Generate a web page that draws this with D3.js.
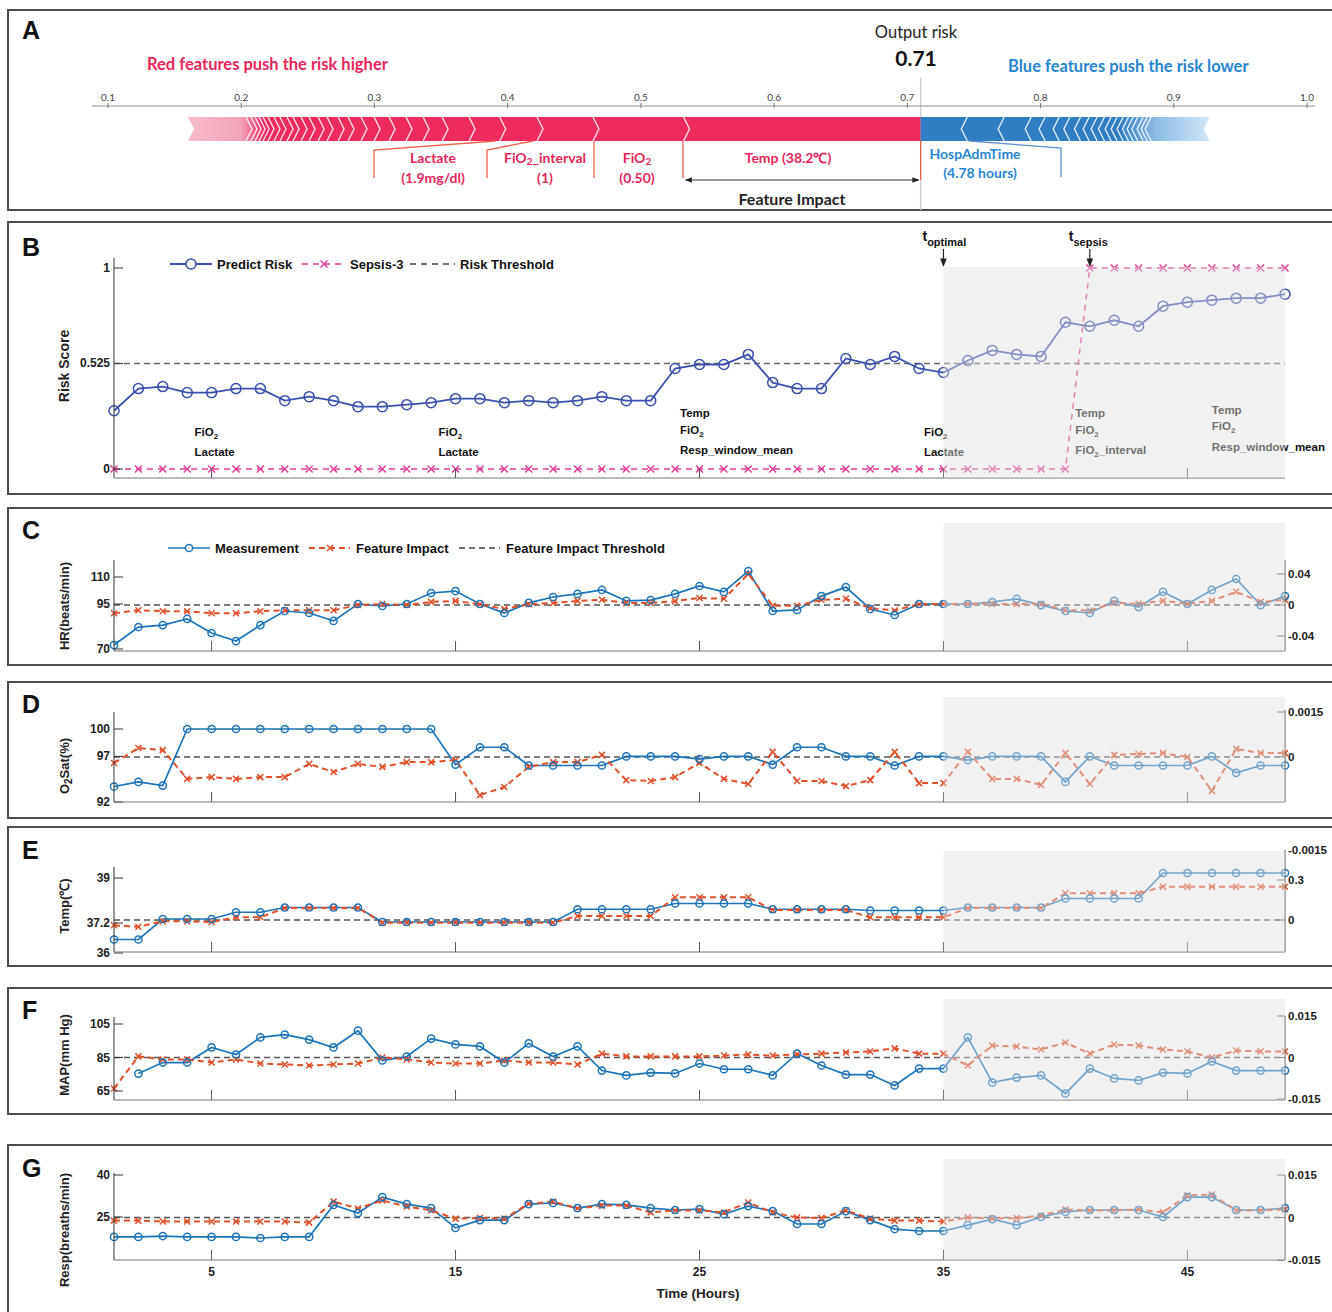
<!DOCTYPE html>
<html><head><meta charset="utf-8">
<script src="https://cdn.jsdelivr.net/npm/d3@7"></script>
<style>body{margin:0;background:#fff}svg{display:block}</style>
</head><body><svg id="c" width="1332" height="1312"></svg>
<script>
// ---------------- DATA ----------------
const forceTicks = [0.1,0.2,0.3,0.4,0.5,0.6,0.7,0.8,0.9,1.0];
const outputRisk = 0.71;
const redStart = 0.16;
const redSmallBounds = [0.2036,0.2074,0.2104,0.2134,0.2164,0.2201,0.2246,0.2291,0.2344,0.2389,0.2449,0.2509,0.2577,0.2644,0.2727,0.2802,0.2899,0.2997,0.3110,0.3237,0.3365,0.3508,0.371];
const redFeatureNames = ["Lactate","FiO{2}_interval","FiO{2}","Temp (38.2℃)"];
const redFeatureValues = ["(1.9mg/dl)","(1)","(0.50)",""];
const redFeatureStarts = [0.394,0.422,0.464,0.532];
const blueFeatureNames = ["HospAdmTime"];
const blueFeatureValues = ["(4.78 hours)"];
const blueFeatureEnds = [0.745];
const blueSmallBounds = [0.7727,0.793,0.8034,0.814,0.822,0.830,0.8365,0.8425,0.848,0.853,0.8575,0.862,0.866,0.8695,0.873,0.877,0.880,0.883];
const blueEnd = 0.927;

const hours = [1,2,3,4,5,6,7,8,9,10,11,12,13,14,15,16,17,18,19,20,21,22,23,24,25,26,27,28,29,30,31,32,33,34,35,36,37,38,39,40,41,42,43,44,45,46,47,48,49];
const hourTicks = [5,15,25,35,45];
const tOptimal = 35, tSepsis = 41;
const riskThreshold = 0.525;
const predictRisk = [0.29,0.40,0.41,0.38,0.38,0.40,0.40,0.34,0.36,0.34,0.31,0.31,0.32,0.33,0.35,0.35,0.33,0.34,0.33,0.34,0.36,0.34,0.34,0.50,0.52,0.52,0.57,0.43,0.40,0.40,0.55,0.52,0.56,0.50,0.48,0.54,0.59,0.57,0.56,0.73,0.71,0.74,0.71,0.81,0.83,0.84,0.85,0.85,0.87];
const sepsis3 = [0,0,0,0,0,0,0,0,0,0,0,0,0,0,0,0,0,0,0,0,0,0,0,0,0,0,0,0,0,0,0,0,0,0,0,0,0,0,0,0,1,1,1,1,1,1,1,1,1];
const riskTicks = [0,0.525,1];
const topFeatureLists = [["FiO{2}","Lactate"],["FiO{2}","Lactate"],["Temp","FiO{2}","Resp_window_mean"],["FiO{2}","Lactate"],["Temp","FiO{2}","FiO{2}_interval"],["Temp","FiO{2}","Resp_window_mean"]];
const topFeatureHours = [4.3,14.3,24.2,34.2,40.4,46.0];

const hr = [72.2,82.2,83.3,86.7,78.9,74.4,83.3,91.1,90,85.6,95,93.9,95,101.1,102.2,95,90,95.6,98.9,100.6,102.8,96.7,97.2,100.6,105,101.7,113.3,91.1,91.7,99.4,104.4,92.2,88.9,95,95,95,96.1,97.8,94.4,91.1,90,96.7,93.3,101.7,95,102.8,108.9,94.4,99.4];
const hrImpact = [-0.0107,-0.0067,-0.008,-0.008,-0.0107,-0.0107,-0.008,-0.0067,-0.0067,-0.0067,0,0.0013,0,0.004,0.0053,0.001,-0.0053,0.001,0.0027,0.0053,0.0067,0.0027,0.0027,0.005,0.009,0.008,0.04,-0.001,-0.001,0.0067,0.008,-0.004,-0.007,0.001,0.0013,0.0017,0.0013,0.0013,0.0017,-0.0067,-0.007,0.0027,0.0017,0.0053,0.0017,0.0053,0.017,0.004,0.0067];
const o2 = [93.7,94.2,93.8,100,100,100,100,100,100,100,100,100,100,100,96.1,98,98,96,96,96,96,97,97,97,96.7,97,97,96.1,98,98,97,97,96,97,97,96.6,97,97,97,94.2,97,96,96,96,96,97,95.2,96,96];
const o2Impact = [-0.0002,0.0003,0.00023,-0.00073,-0.00067,-0.00073,-0.00067,-0.00067,-0.00023,-0.0005,-0.00023,-0.00033,-0.00017,-0.00017,-0.0001,-0.00127,-0.001,-0.00033,-0.00017,-0.00017,0.00007,-0.00077,-0.0008,-0.00067,-0.0002,-0.00073,-0.0009,0.00017,-0.0008,-0.0008,-0.00097,-0.00077,0.00017,-0.00087,-0.00087,0.00017,-0.00073,-0.00073,-0.00093,0.00013,-0.0009,0.00007,0.0001,0.00013,0,-0.00113,0.00027,0.00013,0.00013];
const temp = [36.54,36.54,37.36,37.36,37.36,37.63,37.63,37.82,37.82,37.82,37.82,37.24,37.24,37.24,37.24,37.24,37.24,37.24,37.24,37.75,37.75,37.75,37.75,37.98,37.98,37.98,37.98,37.75,37.75,37.75,37.75,37.7,37.7,37.7,37.7,37.82,37.82,37.82,37.82,38.18,38.18,38.18,38.18,39.2,39.2,39.2,39.2,39.2,39.2];
const tempImpact = [-0.04,-0.05,-0.01,-0.01,-0.015,0.02,0.02,0.09,0.09,0.09,0.09,-0.02,-0.02,-0.02,-0.02,-0.02,-0.02,-0.02,-0.02,0.03,0.03,0.03,0.03,0.17,0.17,0.17,0.17,0.075,0.075,0.075,0.075,0.02,0.02,0.02,0.02,0.09,0.09,0.09,0.09,0.2,0.2,0.2,0.2,0.25,0.25,0.25,0.25,0.25,0.25];
const map = [null,75.4,82,82,91,86.8,97,98.7,95.7,91,101,83.2,85.6,96.3,92.8,91.6,82,93.4,85.6,91.6,77.2,74.3,76,75.5,81.4,78,78,74.3,87.4,80.2,74.8,74.8,68.3,78.4,78.4,97,70,73,74.3,63.5,78.4,72.5,71.3,76,75.5,82.6,77.2,77.2,77.2];
const mapImpact = [-0.0112,0.0004,-0.0007,-0.0007,-0.0018,-0.0007,-0.0022,-0.0025,-0.0029,-0.0025,-0.0022,0,-0.0007,-0.0018,-0.0022,-0.0022,-0.0011,-0.0018,-0.0018,-0.0025,0.0014,0.0004,0.0004,0.0004,0.0004,0.0007,0.0011,0.0007,0.0011,0.0014,0.0018,0.0022,0.0033,0.0014,0.0014,-0.0029,0.0043,0.004,0.0029,0.0054,0.0014,0.0047,0.0043,0.0029,0.0022,0,0.0025,0.0022,0.0022];
const resp = [17.9,17.9,18.2,17.9,17.9,17.9,17.5,17.9,17.9,29.3,26.4,32.1,29.6,28.2,21.1,23.9,23.9,29.6,30,28.2,29.6,29.3,28.2,27.5,27.8,26,28.9,27.1,22.5,22.5,27.1,23.9,20.7,20,20,22.1,24.2,22.1,25,26.8,27.5,27.5,27.5,25,32.1,32.1,27.5,27.5,28.2];
const respImpact = [-0.0011,-0.0011,-0.0014,-0.0014,-0.0014,-0.0014,-0.0014,-0.0014,-0.0018,0.0056,0.0032,0.006,0.0039,0.0025,-0.0004,-0.0002,-0.0004,0.0049,0.0056,0.0032,0.0042,0.0042,0.0018,0.0025,0.0025,0.0018,0.0053,0.0018,0,-0.0002,0.0025,-0.0004,-0.0011,-0.0011,-0.0014,0,-0.0004,-0.0002,0.0007,0.0028,0.0025,0.0025,0.0028,0.0018,0.0078,0.0081,0.0025,0.0025,0.0028];

const hrTicks=[70,95,110], hrImpTicks=[-0.04,0,0.04];
const o2Ticks=[92,97,100], o2ImpTicks=[0,0.0015];
const tempTicks=[36,37.2,39], tempImpTicks=[0,0.3];
const mapTicks=[65,85,105], mapImpTicks=[-0.015,0,0.015];
const respTicks=[25,40], respImpTicks=[-0.015,0,0.015];

// ---------------- DRAW ----------------
const ARIAL='"Liberation Sans", Arial, sans-serif';
const CAL='Lato, "Open Sans", sans-serif';
const svg=d3.select('#c');
svg.append('rect').attr('width',1332).attr('height',1312).attr('fill','#fff');
const defs=svg.append('defs');
defs.append('marker').attr('id','arr').attr('viewBox','0 0 10 10').attr('refX',9).attr('refY',5)
  .attr('markerWidth',7).attr('markerHeight',7).attr('orient','auto-start-reverse')
  .append('path').attr('d','M0,1L10,5L0,9z').attr('fill','#222');

function rich(sel,str,sub){
  const parts=str.split(/(\{[^}]*\})/).filter(s=>s.length);
  let shifted=false;
  parts.forEach(p=>{
    if(p[0]==='{'){sel.append('tspan').attr('dy',sub[1]).attr('font-size',sub[0]).text(p.slice(1,-1));shifted=true;}
    else{const ts=sel.append('tspan').text(p);if(shifted){ts.attr('dy',-sub[1]);shifted=false;}}
  });
  return sel;
}
function xPath(cx,cy,s){return `M${cx-s},${cy-s}L${cx+s},${cy+s}M${cx-s},${cy+s}L${cx+s},${cy-s}`;}

// frames
[[10,210],[222,494],[508,665],[682,818],[827,966],[988,1114],[1145,1330]].forEach(([t,b])=>{
  svg.append('rect').attr('x',8).attr('y',t).attr('width',1345).attr('height',b-t)
   .attr('fill','none').attr('stroke','#4d4d4d').attr('stroke-width',2);
});
[['A',30],['B',247],['C',530],['D',704],['E',850],['F',1010],['G',1168]].forEach(([l,y])=>{
  svg.append('text').attr('x',22).attr('y',y).attr('dominant-baseline','central').attr('font-family',ARIAL)
   .attr('font-weight','bold').attr('font-size',25).attr('fill','#111').text(l);
});

// ---------- Panel A ----------
const xA=d3.scaleLinear().domain([0.1,1.0]).range([108,1307]);
const gA=svg.append('g').attr('font-family',CAL);
gA.append('line').attr('x1',xA(outputRisk)).attr('x2',xA(outputRisk)).attr('y1',78).attr('y2',210).attr('stroke','#cfcfcf').attr('stroke-width',1.5);
gA.append('line').attr('x1',92).attr('x2',1315).attr('y1',106).attr('y2',106).attr('stroke','#8c8c8c').attr('stroke-width',1.2);
forceTicks.forEach(v=>{
  gA.append('line').attr('x1',xA(v)).attr('x2',xA(v)).attr('y1',103).attr('y2',108).attr('stroke','#777');
  gA.append('text').attr('x',xA(v)).attr('y',97).attr('text-anchor','middle').attr('dominant-baseline','central')
   .attr('font-size',10).attr('fill','#444').text(v.toFixed(1));
});
gA.append('text').attr('x',916).attr('y',32).attr('text-anchor','middle').attr('dominant-baseline','central').attr('font-size',16.5).attr('fill','#222').text('Output risk');
gA.append('text').attr('x',916).attr('y',57).attr('text-anchor','middle').attr('dominant-baseline','central').attr('font-size',21).attr('font-weight','bold').attr('fill','#111').text(outputRisk.toFixed(2));
gA.append('text').attr('x',147).attr('y',64).attr('dominant-baseline','central').attr('font-size',16.5).attr('font-weight','bold').attr('fill','#e8265c').text('Red features push the risk higher');
gA.append('text').attr('x',1008).attr('y',66).attr('dominant-baseline','central').attr('font-size',16.5).attr('font-weight','bold').attr('fill','#2786d2').text('Blue features push the risk lower');

const bt=117,bb=141,bm=129,ch=6;
const rg=defs.append('linearGradient').attr('id','rfade').attr('gradientUnits','userSpaceOnUse')
  .attr('x1',xA(redStart)).attr('x2',xA(redSmallBounds[0])+18).attr('y1',0).attr('y2',0);
rg.append('stop').attr('offset',0).attr('stop-color','#f6bccb');
rg.append('stop').attr('offset',0.7).attr('stop-color','#f3a3ba');
rg.append('stop').attr('offset',1).attr('stop-color','#ee2a5f');
const x0=xA(redStart), x1=xA(outputRisk);
gA.append('path').attr('d',`M${x0},${bt}L${x1},${bt}L${x1},${bb}L${x0},${bb}L${x0+ch},${bm}Z`).attr('fill','url(#rfade)');
const allRed=redSmallBounds.concat(redFeatureStarts);
allRed.forEach(v=>{
  const xx=xA(v);
  gA.append('path').attr('d',`M${xx},${bt}L${xx+ch},${bm}L${xx},${bb}`).attr('fill','none').attr('stroke','#fff').attr('stroke-width',1.4).attr('stroke-opacity',0.85);
});
const bg=defs.append('linearGradient').attr('id','bfade').attr('gradientUnits','userSpaceOnUse')
  .attr('x1',xA(0.86)).attr('x2',xA(blueEnd)).attr('y1',0).attr('y2',0);
bg.append('stop').attr('offset',0).attr('stop-color','#2f7ec3');
bg.append('stop').attr('offset',0.4).attr('stop-color','#8dbde6');
bg.append('stop').attr('offset',1).attr('stop-color','#d2e6f6');
const x2=xA(blueEnd);
gA.append('path').attr('d',`M${x1},${bt}L${x2},${bt}L${x2-ch},${bm}L${x2},${bb}L${x1},${bb}Z`).attr('fill','url(#bfade)');
blueFeatureEnds.concat(blueSmallBounds).forEach(v=>{
  const xx=xA(v);
  gA.append('path').attr('d',`M${xx},${bt}L${xx-ch},${bm}L${xx},${bb}`).attr('fill','none').attr('stroke','#fff').attr('stroke-width',1.4).attr('stroke-opacity',0.85);
});
// labels
const redAnchor=[374,487,594,683], redCenter=[433,545,637,788];
const redCol='#f0604c', redTxt='#e8265c';
redFeatureStarts.forEach((v,i)=>{
  const xs=xA(v)-4<redAnchor[i]?redAnchor[i]:xA(v)-4;
  gA.append('path').attr('d',`M${xs},${bb}L${redAnchor[i]},${bb+9}L${redAnchor[i]},178`).attr('fill','none').attr('stroke',redCol).attr('stroke-width',1.3);
  rich(gA.append('text').attr('x',redCenter[i]).attr('y',157).attr('text-anchor','middle').attr('dominant-baseline','central').attr('font-size',14).attr('font-weight','bold').attr('fill',redTxt),redFeatureNames[i],[10,4]);
  if(redFeatureValues[i]){
    gA.append('text').attr('x',redCenter[i]).attr('y',177).attr('text-anchor','middle').attr('dominant-baseline','central').attr('font-size',14).attr('font-weight','bold').attr('fill',redTxt).text(redFeatureValues[i]);
  }
});
gA.append('line').attr('x1',x1).attr('x2',x1).attr('y1',bb).attr('y2',180).attr('stroke',redCol).attr('stroke-width',1.3);
blueFeatureEnds.forEach((v,i)=>{
  gA.append('path').attr('d',`M${xA(v)+2},${bb}L1061,${bb+7}L1061,177`).attr('fill','none').attr('stroke','#5b8fd3').attr('stroke-width',1.3);
  gA.append('text').attr('x',975).attr('y',153).attr('text-anchor','middle').attr('dominant-baseline','central').attr('font-size',14).attr('font-weight','bold').attr('fill','#2786d2').text(blueFeatureNames[i]);
  gA.append('text').attr('x',980).attr('y',172).attr('text-anchor','middle').attr('dominant-baseline','central').attr('font-size',14).attr('font-weight','bold').attr('fill','#2786d2').text(blueFeatureValues[i]);
});
gA.append('line').attr('x1',xA(redFeatureStarts[3])+2).attr('x2',x1-2).attr('y1',180).attr('y2',180).attr('stroke','#333').attr('stroke-width',1)
  .attr('marker-start','url(#arr)').attr('marker-end','url(#arr)');
gA.append('text').attr('x',792).attr('y',198).attr('text-anchor','middle').attr('dominant-baseline','central').attr('font-size',16).attr('font-weight','bold').attr('fill','#222').text('Feature Impact');

// ---------- shared ----------
const x=d3.scaleLinear().domain([1,49]).range([114,1285]);
const XL=114, XR=1285;
const cPred='#3a4fae', cPink='#e23b98', cBlue='#1c74b9', cRed='#e0502a';

function overlay(top,bottom){
  svg.append('rect').attr('x',x(tOptimal)).attr('y',top).attr('width',XR-x(tOptimal)).attr('height',bottom-top)
    .attr('fill','#e0e0e0').attr('fill-opacity',0.45);
}
function leftAxis(g,y,ticks,top,bottom,fmt){
  g.append('line').attr('x1',XL).attr('x2',XL).attr('y1',top).attr('y2',bottom).attr('stroke','#333').attr('stroke-width',1);
  ticks.forEach(v=>{
    g.append('line').attr('x1',XL).attr('x2',XL+9).attr('y1',y(v)).attr('y2',y(v)).attr('stroke','#333');
    g.append('text').attr('x',XL-4).attr('y',y(v)).attr('text-anchor','end').attr('dominant-baseline','central')
     .attr('font-family',ARIAL).attr('font-weight','bold').attr('font-size',12).attr('fill','#222').text(fmt?fmt(v):String(v));
  });
}
function rightAxis(g,y,ticks,top,bottom){
  g.append('line').attr('x1',XR).attr('x2',XR).attr('y1',top).attr('y2',bottom).attr('stroke','#555').attr('stroke-width',1);
  ticks.forEach(v=>{
    g.append('line').attr('x1',XR-8).attr('x2',XR).attr('y1',y(v)).attr('y2',y(v)).attr('stroke','#555');
    g.append('text').attr('x',XR+3).attr('y',y(v)).attr('dominant-baseline','central')
     .attr('font-family',ARIAL).attr('font-weight','bold').attr('font-size',11.5).attr('fill','#222').text(String(v));
  });
}
function bottomAxis(g,base,labels){
  g.append('line').attr('x1',XL).attr('x2',XR).attr('y1',base).attr('y2',base).attr('stroke','#777').attr('stroke-width',1);
  hourTicks.forEach(h=>{
    g.append('line').attr('x1',x(h)).attr('x2',x(h)).attr('y1',base).attr('y2',base-10).attr('stroke','#555');
    if(labels) g.append('text').attr('x',x(h)).attr('y',base+12).attr('text-anchor','middle').attr('dominant-baseline','central')
      .attr('font-family',ARIAL).attr('font-weight','bold').attr('font-size',12).attr('fill','#222').text(h);
  });
}
function yTitle(str,cy,size){
  rich(svg.append('text').attr('transform',`translate(64,${cy}) rotate(-90)`).attr('text-anchor','middle').attr('dominant-baseline','central')
   .attr('font-family',ARIAL).attr('font-weight','bold').attr('font-size',size||13).attr('fill','#222'),str,[10,4]);
}
function dashLine(g,x1_,x2_,y,col,w,dash){
  g.append('line').attr('x1',x1_).attr('x2',x2_).attr('y1',y).attr('y2',y).attr('stroke',col).attr('stroke-width',w).attr('stroke-dasharray',dash);
}

// ---------- Panel B ----------
const yB=d3.scaleLinear().domain([0,1]).range([469,268]);
const gB=svg.append('g');
dashLine(gB,XL,XR,yB(riskThreshold),'#666',1.5,'6,4');
topFeatureLists.forEach((lst,i)=>{
  const n=lst.length, xx=x(topFeatureHours[i]);
  const ys = n===3 ? (i===5?[410,426,447]:[413,430,450]) : [432,452];
  lst.forEach((s,j)=>{
    rich(gB.append('text').attr('x',xx).attr('y',ys[j]).attr('dominant-baseline','central').attr('font-family',ARIAL)
      .attr('font-weight','bold').attr('font-size',11.5).attr('fill','#111'),s,[8,4]);
  });
});
const lineB=d3.line().x((d,i)=>x(hours[i])).y(d=>yB(d));
gB.append('path').datum(sepsis3).attr('d',lineB).attr('fill','none').attr('stroke',cPink).attr('stroke-width',1.5).attr('stroke-dasharray','6,5');
gB.selectAll('.sx').data(sepsis3).enter().append('path').attr('d',(d,i)=>xPath(x(hours[i]),yB(d),3.5)).attr('stroke',cPink).attr('stroke-width',1.5);
gB.append('path').datum(predictRisk).attr('d',lineB).attr('fill','none').attr('stroke',cPred).attr('stroke-width',1.8);
gB.selectAll('.pc').data(predictRisk).enter().append('circle').attr('cx',(d,i)=>x(hours[i])).attr('cy',d=>yB(d)).attr('r',5)
  .attr('fill','none').attr('stroke',cPred).attr('stroke-width',1.5);
overlay(267,478);
leftAxis(gB,yB,riskTicks,258,478,v=>String(v));
bottomAxis(gB,478,false);
yTitle('Risk Score',366,14);
const lg=svg.append('g').attr('font-family',ARIAL).attr('font-weight','bold').attr('font-size',13).attr('fill','#111');
lg.append('line').attr('x1',170).attr('x2',212).attr('y1',264).attr('y2',264).attr('stroke',cPred).attr('stroke-width',1.8);
lg.append('circle').attr('cx',191).attr('cy',264).attr('r',5).attr('fill','#fff').attr('stroke',cPred).attr('stroke-width',1.5);
lg.append('text').attr('x',217).attr('y',264).attr('dominant-baseline','central').text('Predict Risk');
dashLine(lg,302,345,264,cPink,1.5,'6,5');
lg.append('path').attr('d',xPath(324,264,3.5)).attr('stroke',cPink).attr('stroke-width',1.5);
lg.append('text').attr('x',350).attr('y',264).attr('dominant-baseline','central').text('Sepsis-3');
dashLine(lg,410,455,264,'#444',1.5,'6,5');
lg.append('text').attr('x',460).attr('y',264).attr('dominant-baseline','central').text('Risk Threshold');
function tMark(h,sub){
  const xx=x(h);
  const t=svg.append('text').attr('x',xx-21).attr('y',236).attr('font-family',ARIAL).attr('font-weight','bold').attr('font-size',14).attr('fill','#111').attr('dominant-baseline','central');
  t.append('tspan').text('t');
  t.append('tspan').attr('dy',6).attr('font-size',11).text(sub);
  svg.append('line').attr('x1',xx).attr('x2',xx).attr('y1',249).attr('y2',266).attr('stroke','#222').attr('stroke-width',1.2).attr('marker-end','url(#arr)');
}
tMark(tOptimal,'optimal');
tMark(tSepsis,'sepsis');

// ---------- Panels C-G ----------
const panels=[
 {meas:hr,imp:hrImpact,yL:[[70,110],[649,577]],yR:[[-0.04,0.04],[636,574]],base:651,lTop:560,rTop:560,shade:523,lT:hrTicks,rT:hrImpTicks,title:'HR(beats/min)',ty:606},
 {meas:o2,imp:o2Impact,yL:[[92,100],[802,729]],yR:[[0,0.0015],[757,712]],base:802,lTop:712,rTop:710,shade:697,lT:o2Ticks,rT:o2ImpTicks,title:'O{2}Sat(%)',ty:766},
 {meas:temp,imp:tempImpact,yL:[[36,39],[953,878]],yR:[[0,0.3],[920,880]],base:952,lTop:867,rTop:850,shade:851,lT:tempTicks,rT:tempImpTicks,title:'Temp(℃)',ty:906,extra:'-0.0015'},
 {meas:map,imp:mapImpact,yL:[[65,105],[1091,1024]],yR:[[-0.015,0.015],[1099,1016]],base:1100,lTop:1017,rTop:1016,shade:999,lT:mapTicks,rT:mapImpTicks,title:'MAP(mm Hg)',ty:1055},
 {meas:resp,imp:respImpact,yL:[[25,40],[1217,1175]],yR:[[-0.015,0.015],[1260,1175]],base:1260,lTop:1173,rTop:1175,shade:1159,lT:respTicks,rT:respImpTicks,title:'Resp(breaths/min)',ty:1230,labels:true},
];
panels.forEach(p=>{
  const yL=d3.scaleLinear().domain(p.yL[0]).range(p.yL[1]);
  const yR=d3.scaleLinear().domain(p.yR[0]).range(p.yR[1]);
  const g=svg.append('g');
  dashLine(g,XL,XR,yR(0),'#555',1.5,'6,4');
  const lm=d3.line().defined(d=>d!==null).x((d,i)=>x(hours[i])).y(d=>yL(d));
  const li=d3.line().x((d,i)=>x(hours[i])).y(d=>yR(d));
  g.append('path').datum(p.meas).attr('d',lm).attr('fill','none').attr('stroke',cBlue).attr('stroke-width',1.7);
  g.append('path').datum(p.imp).attr('d',li).attr('fill','none').attr('stroke',cRed).attr('stroke-width',2).attr('stroke-dasharray','6,4');
  p.imp.forEach((d,i)=>g.append('path').attr('d',xPath(x(hours[i]),yR(d),3)).attr('stroke',cRed).attr('stroke-width',1.5));
  p.meas.forEach((d,i)=>{ if(d!==null) g.append('circle').attr('cx',x(hours[i])).attr('cy',yL(d)).attr('r',3.6).attr('fill','none').attr('stroke',cBlue).attr('stroke-width',1.5);});
  overlay(p.shade,p.base);
  leftAxis(g,yL,p.lT,p.lTop,p.base);
  rightAxis(g,yR,p.rT,p.rTop,p.base);
  if(p.extra) g.append('text').attr('x',XR+3).attr('y',p.rTop).attr('dominant-baseline','central').attr('font-family',ARIAL).attr('font-weight','bold').attr('font-size',11.5).attr('fill','#222').text(p.extra);
  bottomAxis(g,p.base,p.labels);
  yTitle(p.title,p.ty,13);
});
const lc=svg.append('g').attr('font-family',ARIAL).attr('font-weight','bold').attr('font-size',13).attr('fill','#111');
lc.append('line').attr('x1',168).attr('x2',210).attr('y1',548).attr('y2',548).attr('stroke',cBlue).attr('stroke-width',1.7);
lc.append('circle').attr('cx',189).attr('cy',548).attr('r',3.6).attr('fill','#fff').attr('stroke',cBlue).attr('stroke-width',1.5);
lc.append('text').attr('x',215).attr('y',548).attr('dominant-baseline','central').text('Measurement');
dashLine(lc,309,350,548,cRed,2,'6,4');
lc.append('path').attr('d',xPath(330,548,3)).attr('stroke',cRed).attr('stroke-width',1.5);
lc.append('text').attr('x',356).attr('y',548).attr('dominant-baseline','central').text('Feature Impact');
dashLine(lc,459,500,548,'#444',1.5,'6,4');
lc.append('text').attr('x',506).attr('y',548).attr('dominant-baseline','central').text('Feature Impact Threshold');
svg.append('text').attr('x',698).attr('y',1293).attr('text-anchor','middle').attr('dominant-baseline','central').attr('font-family',ARIAL).attr('font-weight','bold').attr('font-size',13.5).attr('fill','#222').text('Time (Hours)');
</script></body></html>
